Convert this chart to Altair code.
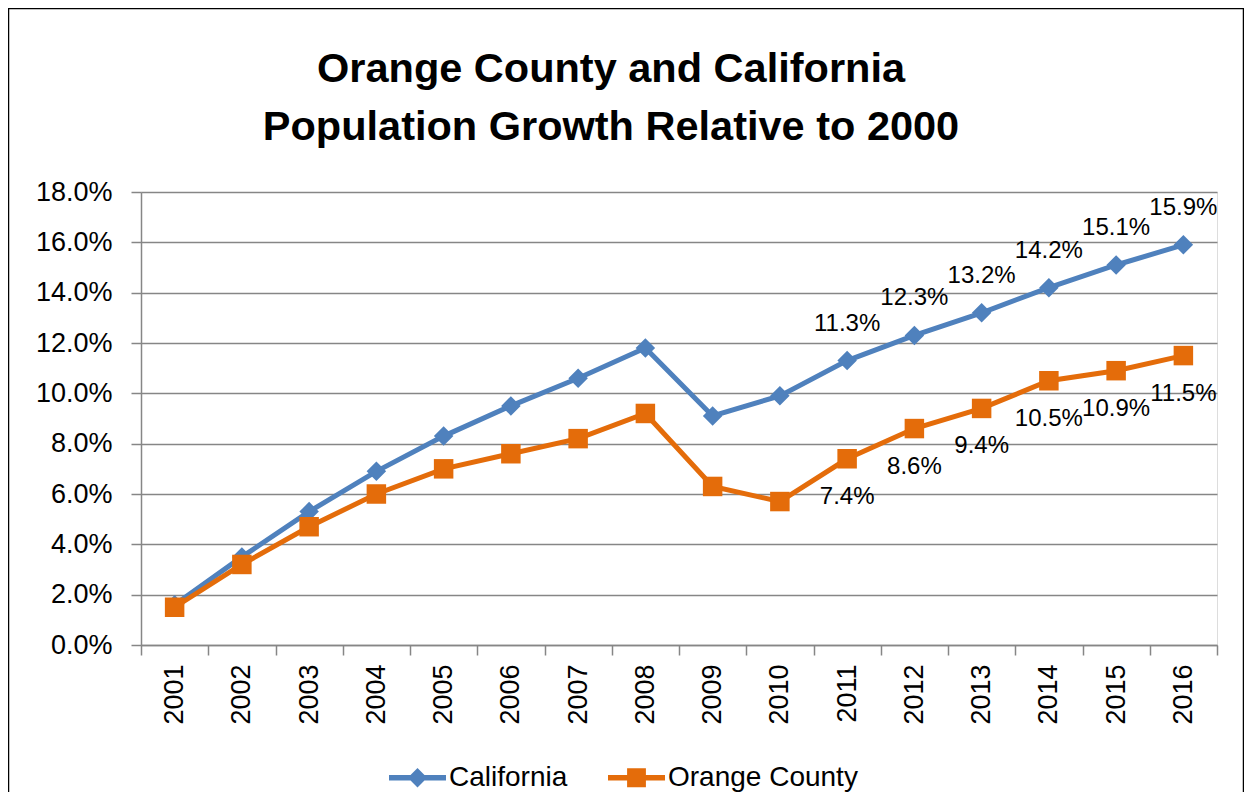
import altair as alt
import pandas as pd

years = [str(y) for y in range(2001, 2017)]
california = [1.6, 3.5, 5.3, 6.9, 8.3, 9.5, 10.6, 11.8, 9.1, 9.9, 11.3, 12.3, 13.2, 14.2, 15.1, 15.9]
orange_county = [1.5, 3.2, 4.7, 6.0, 7.0, 7.6, 8.2, 9.2, 6.3, 5.7, 7.4, 8.6, 9.4, 10.5, 10.9, 11.5]
series_names = ["California", "Orange County"]
series_colors = ["#4F81BD", "#E46C0A"]
series_markers = ["diamond", "square"]
label_years = ["2011", "2012", "2013", "2014", "2015", "2016"]
y_ticks = [0, 0.02, 0.04, 0.06, 0.08, 0.10, 0.12, 0.14, 0.16, 0.18]
title_lines = ["Orange County and California", "Population Growth Relative to 2000"]

rows = []
for i, y in enumerate(years):
    rows.append({"year": y, "series": series_names[0], "value": california[i] / 100})
    rows.append({"year": y, "series": series_names[1], "value": orange_county[i] / 100})
df = pd.DataFrame(rows)

FONT = "Liberation Sans"
W, H = 1076, 453

x_enc = alt.X("year:N", sort=years, title=None,
              scale=alt.Scale(paddingInner=0, paddingOuter=0),
              axis=alt.Axis(labelAngle=270, labelFontSize=27, labelFont=FONT, labelColor="black",
                            labelPadding=9, tickBand="extent", tickSize=10, tickColor="#868686",
                            tickWidth=1.5, domainColor="#868686", domainWidth=1.5, grid=False))
y_enc = alt.Y("value:Q", title=None,
              scale=alt.Scale(domain=[0, 0.18], nice=False),
              axis=alt.Axis(values=y_ticks, format=".1%", labelFontSize=27, labelFont=FONT,
                            labelColor="black", labelPadding=19, tickSize=10, tickColor="#868686",
                            tickWidth=1.5, domainColor="#868686", domainWidth=1.5,
                            grid=True, gridColor="#868686", gridWidth=1.4))

color_scale = alt.Scale(domain=series_names, range=series_colors)

# filled legend glyphs: a bar for the line plus the marker
legend_shape = ("datum.value == 'California' ? "
                "'M-1,-0.1H1V0.1H-1ZM0,-0.34L0.34,0L0,0.34L-0.34,0Z' : "
                "'M-1,-0.1H1V0.1H-1ZM-0.33,-0.33H0.33V0.33H-0.33Z'")
legend_color = "datum.value == 'California' ? '#4F81BD' : '#E46C0A'"

lines = alt.Chart(df).mark_line(strokeWidth=5).encode(
    x=x_enc, y=y_enc,
    color=alt.Color("series:N", scale=color_scale, sort=series_names,
                    legend=alt.Legend(title=None, orient="none", legendX=248, legendY=557,
                                      direction="horizontal", symbolSize=3249,
                                      symbolType=alt.ExprRef(expr=legend_shape),
                                      symbolFillColor=alt.ExprRef(expr=legend_color),
                                      symbolStrokeWidth=0, symbolOpacity=1,
                                      labelFontSize=28, labelFont=FONT, labelLimit=400,
                                      labelColor="black", labelOffset=3, columnPadding=40,
                                      padding=0)),
)

point_layers = []
for name, col, shp in zip(series_names, series_colors, series_markers):
    point_layers.append(
        alt.Chart(df).transform_filter(alt.datum.series == name).mark_point(
            filled=True, opacity=1, size=380, shape=shp, color=col
        ).encode(x=x_enc, y=y_enc)
    )

lab_ca = alt.Chart(df).transform_filter(
    alt.FieldOneOfPredicate(field="year", oneOf=label_years)
).transform_filter(alt.datum.series == "California").mark_text(
    fontSize=24, font=FONT, color="black", baseline="middle", align="center", dy=-37
).encode(x=x_enc, y=y_enc, text=alt.Text("value:Q", format=".1%"))

lab_oc = alt.Chart(df).transform_filter(
    alt.FieldOneOfPredicate(field="year", oneOf=label_years)
).transform_filter(alt.datum.series == "Orange County").mark_text(
    fontSize=24, font=FONT, color="black", baseline="middle", align="center", dy=38
).encode(x=x_enc, y=y_enc, text=alt.Text("value:Q", format=".1%"))

frame = alt.Chart(pd.DataFrame({"f": [0]})).mark_rect(
    fill="transparent", stroke="black", strokeWidth=1.5
).encode(x=alt.value(-132.5), x2=alt.value(1102.5), y=alt.value(-183.5), y2=alt.value(700))

chart = alt.layer(frame, lines, *point_layers, lab_ca, lab_oc).properties(
    width=W, height=H,
    title=alt.TitleParams(text=title_lines, fontSize=41.5, font=FONT, fontWeight="bold",
                          color="black", lineHeight=58, anchor="middle", frame="group",
                          baseline="bottom", dx=-68, dy=183, offset=0),
    autosize=alt.AutoSizeParams(type="none"),
    padding={"left": 133, "top": 184, "right": 27, "bottom": 147},
).configure_view(stroke=None).configure(background="white")

chart.save("out.html", embed_options={"renderer": "svg", "actions": False})
